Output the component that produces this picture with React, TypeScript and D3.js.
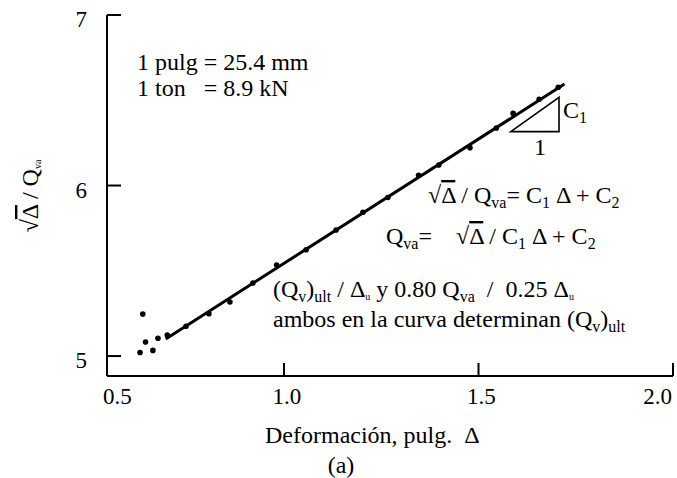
import React from 'react'
import * as d3 from 'd3'

// valores
const deformacion = [0.630, 0.637, 0.644, 0.663, 0.676, 0.700, 0.748, 0.807, 0.861, 0.920, 0.981, 1.057, 1.134, 1.203, 1.267, 1.346, 1.398, 1.478, 1.546, 1.589, 1.656, 1.705]
const razon = [5.021, 5.246, 5.082, 5.033, 5.104, 5.123, 5.175, 5.248, 5.317, 5.428, 5.534, 5.623, 5.739, 5.843, 5.930, 6.060, 6.120, 6.222, 6.337, 6.423, 6.506, 6.576]
const ajusteX = [0.696, 1.721]
const ajusteY = [5.100, 6.595]
const trianguloX = [1.583, 1.707, 1.707]
const trianguloY = [6.316, 6.517, 6.316]
const xTicks = [0.5, 1.0, 1.5, 2.0]
const xTickLabels = ['0.5', '1.0', '1.5', '2.0']
const yTicks = [5, 6, 7]
const yTickLabels = ['5', '6', '7']

type Seg = { t: string, sub?: boolean, tiny?: boolean, over?: boolean }

const W = 677
const H = 478
const FONT = 'Liberation Serif, Times New Roman, serif'
const FS = 24
const TICK_FS = 23

const Rich = ({ x, y, segs, anchor }: { x: number, y: number, segs: Seg[], anchor?: string }) => {
    let shift = 0
    return (
        <text x={x} y={y} fontSize={FS} fontFamily={FONT} textAnchor={anchor || 'start'} xmlSpace="preserve">
            {segs.map((s, i) => {
                const target = s.sub ? 5 : s.tiny ? 3 : 0
                const dy = target - shift
                shift = target
                return (
                    <tspan key={i} dy={dy} fontFamily={FONT}
                        fontSize={s.sub ? 16 : s.tiny ? 10 : FS}
                        textDecoration={s.over ? 'overline' : undefined}>
                        {s.t}
                    </tspan>
                )
            })}
        </text>
    )
}

const App = () => {
    const x = d3.scaleLinear().domain([0.545, 2.0]).range([107, 673])
    const y = d3.scaleLinear().domain([4.883, 7]).range([376, 15])
    const [x0, x1] = x.range()
    const [y0, y1] = y.range()

    const linea = d3.line<number>()
        .x((_, i) => x(ajusteX[i]))
        .y((_, i) => y(ajusteY[i]))
    const tri = d3.line<number>()
        .x((_, i) => x(trianguloX[i]))
        .y((_, i) => y(trianguloY[i]))
        .curve(d3.curveLinearClosed)

    return (
        <svg width={W} height={H} fontFamily={FONT} style={{ position: 'absolute', left: 0, top: 0, background: '#fff' }}>
            {/* ejes */}
            <line x1={x0} x2={x0} y1={y1} y2={y0} stroke="#000" strokeWidth={2} />
            <line x1={x0} x2={x1} y1={y0} y2={y0} stroke="#000" strokeWidth={2} />
            {yTicks.map((v, i) => {
                const inside = v >= y.domain()[0]
                return (
                    <g key={'y' + i}>
                        {inside && <line x1={x0} x2={x0 + 14} y1={y(v)} y2={y(v)} stroke="#000" strokeWidth={2} />}
                        <text x={87} y={Math.min(y(v) + 12, y0 - 3)} fontSize={TICK_FS} fontFamily={FONT} textAnchor="end">{yTickLabels[i]}</text>
                    </g>
                )
            })}
            {xTicks.map((v, i) => {
                const inside = v >= x.domain()[0]
                const last = i === xTicks.length - 1
                return (
                    <g key={'x' + i}>
                        {inside && <line x1={x(v)} x2={x(v)} y1={y0} y2={y0 - 13} stroke="#000" strokeWidth={2} />}
                        <text x={inside ? (last ? x(v) - 1 : x(v) + 3) : x0 - 4} y={404} fontSize={TICK_FS} fontFamily={FONT}
                            textAnchor={inside ? (last ? 'end' : 'middle') : 'start'}>{xTickLabels[i]}</text>
                    </g>
                )
            })}

            {/* datos */}
            <path d={linea(ajusteX) || ''} fill="none" stroke="#000" strokeWidth={3} />
            {deformacion.map((d, i) => (
                <circle key={i} cx={x(d)} cy={y(razon[i])} r={2.8} fill="#000" />
            ))}
            <path d={tri(trianguloX) || ''} fill="none" stroke="#000" strokeWidth={1.6} />
            <Rich x={563} y={118} segs={[{ t: 'C' }, { t: '1', sub: true }]} />
            <Rich x={540} y={155} anchor="middle" segs={[{ t: '1' }]} />

            {/* notas */}
            <Rich x={137} y={70} segs={[{ t: '1 pulg = 25.4 mm' }]} />
            <Rich x={137} y={96} segs={[{ t: '1 ton   = 8.9 kN' }]} />
            <Rich x={428} y={203} segs={[
                { t: '√' }, { t: 'Δ', over: true }, { t: ' / Q' }, { t: 'va', sub: true },
                { t: '= C' }, { t: '1', sub: true }, { t: ' Δ + C' }, { t: '2', sub: true },
            ]} />
            <Rich x={386} y={244} segs={[
                { t: 'Q' }, { t: 'va', sub: true }, { t: '=    √' }, { t: 'Δ', over: true },
                { t: ' / C' }, { t: '1', sub: true }, { t: ' Δ + C' }, { t: '2', sub: true },
            ]} />
            <Rich x={273} y={297} segs={[
                { t: '(Q' }, { t: 'v', sub: true }, { t: ')' }, { t: 'ult', sub: true },
                { t: ' / Δ' }, { t: 'u', tiny: true }, { t: ' y 0.80 Q' }, { t: 'va', sub: true },
                { t: '  /  0.25 Δ' }, { t: 'u', tiny: true },
            ]} />
            <Rich x={273} y={327} segs={[
                { t: 'ambos en la curva determinan (Q' }, { t: 'v', sub: true }, { t: ')' }, { t: 'ult', sub: true },
            ]} />

            {/* títulos */}
            <Rich x={265} y={443} segs={[{ t: 'Deformación, pulg.  Δ' }]} />
            <Rich x={341} y={473} anchor="middle" segs={[{ t: '(a)' }]} />
            <g transform="translate(38,196) rotate(-90)">
                <Rich x={0} y={0} anchor="middle" segs={[
                    { t: '√' }, { t: 'Δ', over: true }, { t: ' / Q' }, { t: 'va', tiny: true },
                ]} />
            </g>
        </svg>
    )
}

export default App
